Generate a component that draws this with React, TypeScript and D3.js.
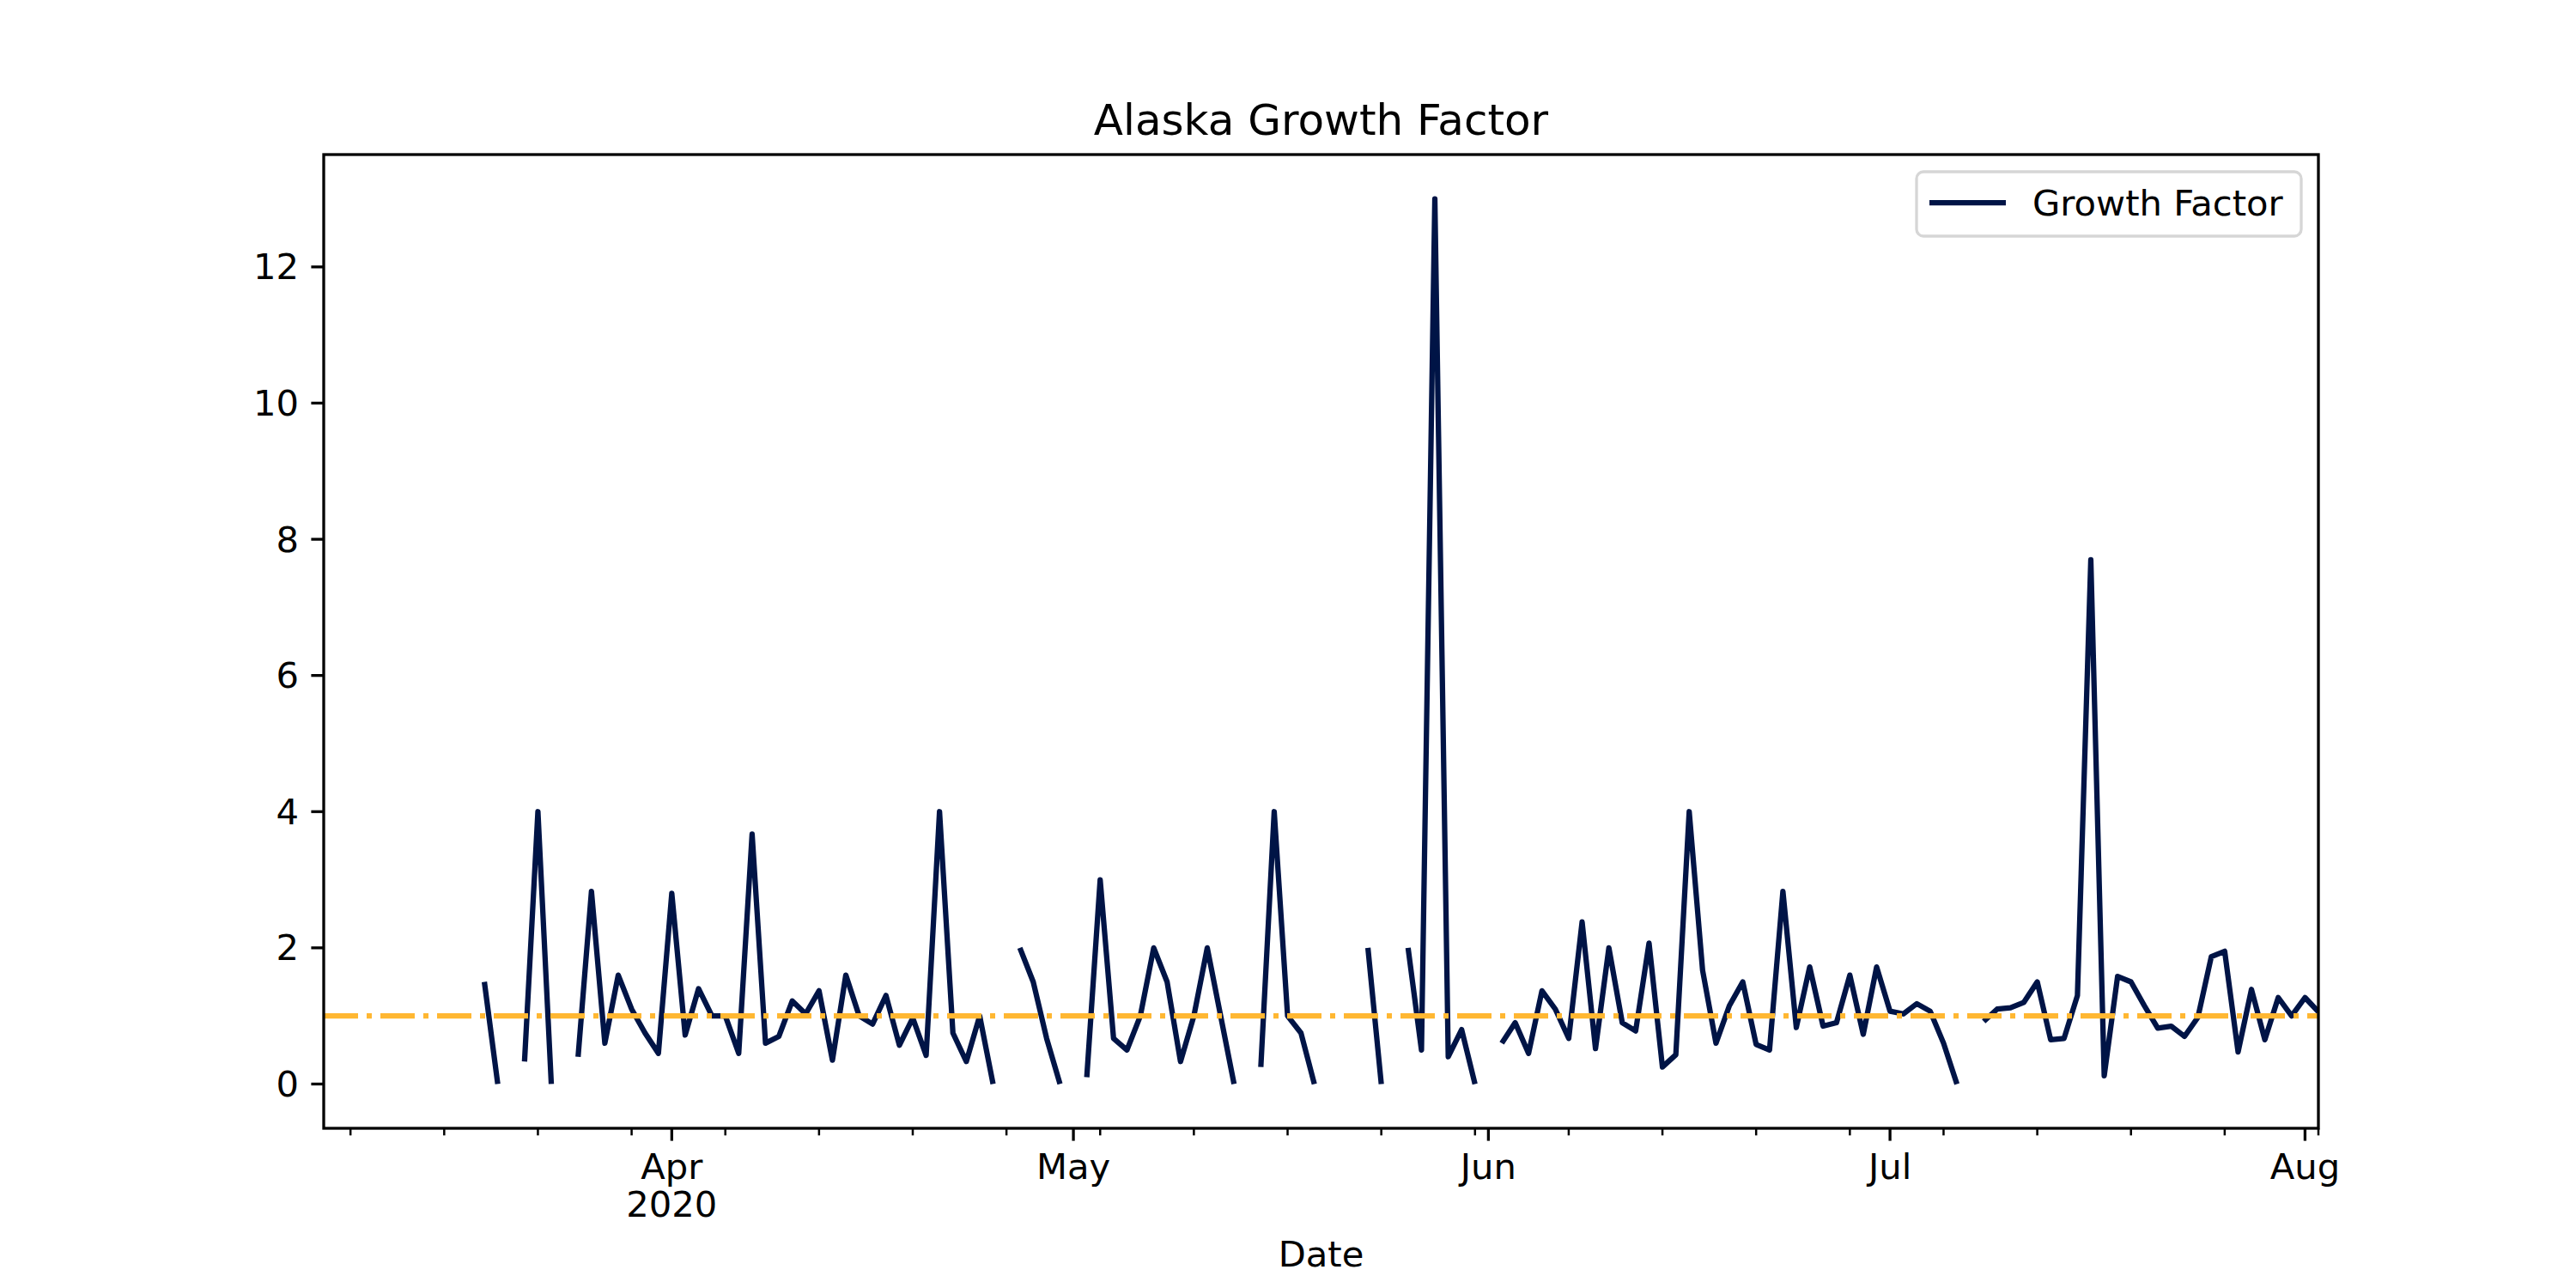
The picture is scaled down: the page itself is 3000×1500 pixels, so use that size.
import { useEffect } from 'react'
import * as d3 from 'd3'

const startDate = '2020-03-18'
// daily growth factor from Mar 18 to Aug 2 (null = no value)
const growthFactor: (number | null)[] = [
  1.5, 0, null, 0.33, 4, 0, null, 0.4, 2.83, 0.6, 1.6, 1.1, 0.75, 0.45,
  2.8, 0.72, 1.4, 1.0, 1.0, 0.45, 3.67, 0.6, 0.7, 1.22, 1.03, 1.37, 0.35, 1.6, 1.0, 0.88,
  1.3, 0.57, 0.97, 0.42, 4, 0.75, 0.33, 1.0, 0, null, 2.0, 1.5, 0.67, 0,
  null, 0.1, 3, 0.67, 0.5, 1.0, 2.0, 1.5, 0.33, 1.0, 2.0, 1.0, 0, null, 0.25, 4, 1.0, 0.75, 0,
  null, null, null, 2.0, 0, null, 2.0, 0.5, 13, 0.4, 0.8, 0,
  null, 0.6, 0.9, 0.45, 1.37, 1.1, 0.67, 2.38, 0.52, 2.0, 0.9, 0.78, 2.07, 0.25, 0.43,
  4.0, 1.67, 0.6, 1.15, 1.5, 0.58, 0.5, 2.83, 0.83, 1.72, 0.85, 0.9, 1.6, 0.73, 1.72,
  1.07, 1.03, 1.18, 1.07, 0.6, 0, null, 0.92, 1.1, 1.12, 1.2, 1.5, 0.65, 0.67, 1.3, 7.7,
  0.12, 1.58, 1.5, 1.15, 0.82, 0.85, 0.7, 0.98, 1.87, 1.95, 0.47, 1.39, 0.65, 1.27, 1.0,
  1.27, 1.06,
]
const yTicks = [0, 2, 4, 6, 8, 10, 12]
const monthTicks = ['2020-04-01', '2020-05-01', '2020-06-01', '2020-07-01', '2020-08-01']
const xDomain = ['2020-03-06', '2020-08-02']
const referenceLevel = 1

const W = 3000
const H = 1500
const margin = { left: 377, right: 300, top: 180, bottom: 186 }
const font = 'DejaVu Sans, sans-serif'

export default function App() {
  useEffect(() => {
    document.body.style.margin = '0'
  }, [])

  const parse = d3.utcParse('%Y-%m-%d')
  const start = parse(startDate)!
  const points = growthFactor.map((v, i) => ({ date: d3.utcDay.offset(start, i), v }))

  const x = d3
    .scaleUtc()
    .domain(xDomain.map((s) => parse(s)!))
    .range([margin.left, W - margin.right])
  const y = d3.scaleLinear().domain([-0.65, 13.65]).range([H - margin.bottom, margin.top])

  const line = d3
    .line<{ date: Date; v: number | null }>()
    .defined((d) => d.v !== null)
    .x((d) => x(d.date))
    .y((d) => y(d.v as number))

  const [x0, x1] = x.range()
  const [yb, yt] = y.range()
  const months = monthTicks.map((s) => parse(s)!)
  const sundays = d3.utcSunday.range(x.domain()[0], d3.utcDay.offset(x.domain()[1], 1))
  const minor = sundays.filter((d) => !months.some((m) => +m === +d))
  const fmt = d3.utcFormat('%b')

  return (
    <svg width={W} height={H} style={{ display: 'block', background: '#fff' }} fontFamily={font}>
      <defs>
        <clipPath id="plot">
          <rect x={x0} y={yt} width={x1 - x0} height={yb - yt} />
        </clipPath>
      </defs>
      <g clipPath="url(#plot)">
        <path d={line(points) ?? ''} fill="none" stroke="#001446" strokeWidth={6.25} strokeLinejoin="round" />
        <line
          x1={x0}
          x2={x1}
          y1={y(referenceLevel)}
          y2={y(referenceLevel)}
          stroke="#FFB732"
          strokeWidth={6.25}
          strokeDasharray="40,10,6,10"
        />
      </g>
      <rect x={x0} y={yt} width={x1 - x0} height={yb - yt} fill="none" stroke="#000" strokeWidth={3.3} />
      {yTicks.map((t) => (
        <g key={t}>
          <line x1={x0} x2={x0 - 14.6} y1={y(t)} y2={y(t)} stroke="#000" strokeWidth={3.3} />
          <text x={x0 - 29} y={y(t)} dy="0.35em" textAnchor="end" fontSize={41.7}>
            {t}
          </text>
        </g>
      ))}
      {minor.map((d) => (
        <line key={+d} x1={x(d)} x2={x(d)} y1={yb} y2={yb + 8.3} stroke="#000" strokeWidth={2.5} />
      ))}
      {months.map((d, i) => (
        <g key={+d}>
          <line x1={x(d)} x2={x(d)} y1={yb} y2={yb + 14.6} stroke="#000" strokeWidth={3.3} />
          <text x={x(d)} y={1373} textAnchor="middle" fontSize={41.7}>
            {fmt(d)}
          </text>
          {i === 0 && (
            <text x={x(d)} y={1417} textAnchor="middle" fontSize={41.7}>
              2020
            </text>
          )}
        </g>
      ))}
      <text x={(x0 + x1) / 2} y={1475} textAnchor="middle" fontSize={41.7}>
        Date
      </text>
      <text x={(x0 + x1) / 2} y={157} textAnchor="middle" fontSize={50}>
        Alaska Growth Factor
      </text>
      <g>
        <rect x={2232} y={200} width={448} height={75} rx={8} fill="#fff" fillOpacity={0.8} stroke="#d6d6d6" strokeWidth={3.3} />
        <line x1={2247} x2={2336} y1={236} y2={236} stroke="#001446" strokeWidth={6.25} />
        <text x={2367} y={251} fontSize={41.7}>
          Growth Factor
        </text>
      </g>
    </svg>
  )
}
